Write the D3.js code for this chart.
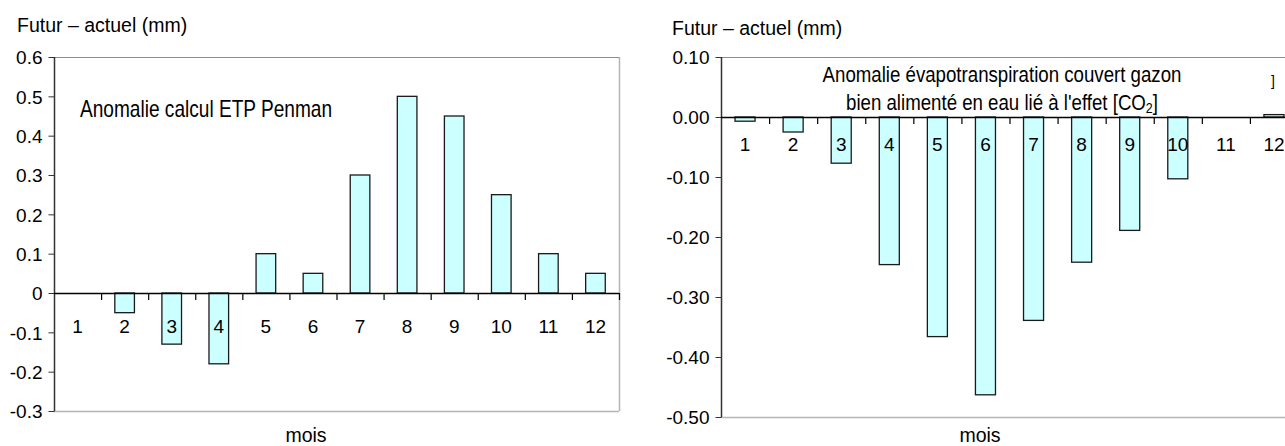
<!DOCTYPE html>
<html>
<head>
<meta charset="utf-8">
<script src="https://cdn.jsdelivr.net/npm/d3@7"></script>
<style>
  body { margin: 0; background: #fff; }
  text { font-family: "Liberation Sans", Arial, sans-serif; fill: #000; }
</style>
</head>
<body>
<div id="chart"></div>
<script>
// month categories
var months = ["1", "2", "3", "4", "5", "6", "7", "8", "9", "10", "11", "12"];

// left panel: anomalie calcul ETP Penman
var penmanValues = [0, -0.05, -0.13, -0.18, 0.1, 0.05, 0.3, 0.5, 0.45, 0.25, 0.1, 0.05];
var penmanTicks = [-0.3, -0.2, -0.1, 0, 0.1, 0.2, 0.3, 0.4, 0.5, 0.6];

// right panel: anomalie ETP gazon, effet CO2
var co2Values = [-0.007, -0.025, -0.077, -0.246, -0.366, -0.463, -0.339, -0.242, -0.189, -0.103, 0, 0.004];
var co2Ticks = [-0.5, -0.4, -0.3, -0.2, -0.1, 0, 0.1];

var svg = d3.select("#chart")
  .append("svg")
  .attr("width", 1285)
  .attr("height", 446);

// draws one bar panel
function drawPanel(p) {
  var g = svg.append("g");

  var x = d3.scaleBand()
    .domain(months)
    .range([p.left, p.right])
    .padding(0);

  var y = d3.scaleLinear()
    .domain(p.domain)
    .range([p.bottom, p.top]);

  var barW = x.bandwidth() / 2.4;
  var y0 = y(0);

  // frame (light grey)
  g.append("line")
    .attr("x1", p.left).attr("x2", p.frameRight)
    .attr("y1", p.top + 0.5).attr("y2", p.top + 0.5)
    .style("stroke", "#8c8c8c");
  g.append("line")
    .attr("x1", p.left).attr("x2", p.frameRight)
    .attr("y1", p.bottom + 0.5).attr("y2", p.bottom + 0.5)
    .style("stroke", "#b4b4b4")
    .style("stroke-width", 1.5);
  if (p.frameRight <= 1285) {
    g.append("line")
      .attr("x1", p.frameRight + 0.5).attr("x2", p.frameRight + 0.5)
      .attr("y1", p.top).attr("y2", p.bottom)
      .style("stroke", "#b4b4b4")
      .style("stroke-width", 1.5);
  }

  // y axis
  var leftAxis = d3.axisLeft(y)
    .tickValues(p.ticks)
    .tickSize(6)
    .tickPadding(6)
    .tickFormat(p.fmt);

  var yAxis = g.append("g")
    .attr("transform", `translate(${p.left + 0.5}, 0)`)
    .call(leftAxis);
  yAxis.select(".domain").attr("d", `M0,${p.top}V${p.bottom}`).style("stroke", "#333").style("stroke-width", 1.5);
  yAxis.selectAll(".tick line").style("stroke", "#333");
  yAxis.selectAll(".tick text")
    .attr("font-size", 19)
    .attr("dy", "0.36em")
    .style("font-family", "Liberation Sans, Arial, sans-serif");

  // bars
  g.selectAll("rect.bar")
    .data(p.values)
    .enter()
    .append("rect")
    .attr("class", "bar")
    .attr("x", (d, i) => x(months[i]) + (x.bandwidth() - barW) / 2)
    .attr("y", d => Math.min(y(d), y0))
    .attr("width", barW)
    .attr("height", d => Math.abs(y(d) - y0))
    .style("fill", "#ccffff")
    .style("stroke", "#1a1a1a")
    .style("stroke-width", 1.3);

  // zero line + category ticks
  g.append("line")
    .attr("x1", p.left).attr("x2", p.frameRight)
    .attr("y1", y0 + 0.5).attr("y2", y0 + 0.5)
    .style("stroke", "#000")
    .style("stroke-width", 1.3);

  var bounds = months.map(m => x(m) + x.bandwidth()).filter(v => v <= 1285);
  g.selectAll("line.ctick")
    .data(bounds)
    .enter()
    .append("line")
    .attr("class", "ctick")
    .attr("x1", d => d + 0.5).attr("x2", d => d + 0.5)
    .attr("y1", y0).attr("y2", y0 + 7)
    .style("stroke", "#000")
    .style("stroke-width", 1.2);

  // month labels under the zero line
  g.selectAll("text.month")
    .data(months)
    .enter()
    .append("text")
    .attr("class", "month")
    .attr("x", d => x(d) + x.bandwidth() / 2)
    .attr("y", y0 + p.labelOffset)
    .attr("text-anchor", "middle")
    .attr("font-size", 19)
    .text(d => d);

  // unit label
  g.append("text")
    .attr("x", p.unitX)
    .attr("y", p.unitY)
    .attr("font-size", 19.5)
    .text("Futur – actuel (mm)");

  // x axis label
  g.append("text")
    .attr("x", p.moisX)
    .attr("y", p.moisY)
    .attr("text-anchor", "middle")
    .attr("font-size", 19.5)
    .text("mois");

  return g;
}

var left = drawPanel({
  left: 54, right: 619, frameRight: 619,
  top: 57, bottom: 411,
  domain: [-0.3, 0.6],
  ticks: penmanTicks,
  fmt: d => d === 0 ? "0" : d.toFixed(1),
  values: penmanValues,
  labelOffset: 40,
  unitX: 17, unitY: 32,
  moisX: 306, moisY: 442
});

var right = drawPanel({
  left: 721, right: 1298, frameRight: 1298,
  top: 57, bottom: 417,
  domain: [-0.5, 0.1],
  ticks: co2Ticks,
  fmt: d => d.toFixed(2),
  values: co2Values,
  labelOffset: 33.5,
  unitX: 672, unitY: 35,
  moisX: 980, moisY: 442
});

// titles (narrow face)
left.append("text")
  .attr("transform", "translate(80, 117) scale(0.83, 1)")
  .attr("font-size", 23)
  .text("Anomalie calcul ETP Penman");

right.append("text")
  .attr("transform", "translate(1002, 82) scale(0.83, 1)")
  .attr("text-anchor", "middle")
  .attr("font-size", 22.5)
  .text("Anomalie évapotranspiration couvert gazon");

var line2 = right.append("text")
  .attr("transform", "translate(1002, 110) scale(0.83, 1)")
  .attr("text-anchor", "middle")
  .attr("font-size", 22.5);
line2.append("tspan").text("bien alimenté en eau lié à l'effet [CO");
line2.append("tspan").attr("font-size", 15).attr("dy", 3).text("2");
line2.append("tspan").attr("dy", -3).text("]");

// stray bracket at top right
right.append("text")
  .attr("x", 1271)
  .attr("y", 86)
  .attr("font-size", 14)
  .text("]");
</script>
</body>
</html>
